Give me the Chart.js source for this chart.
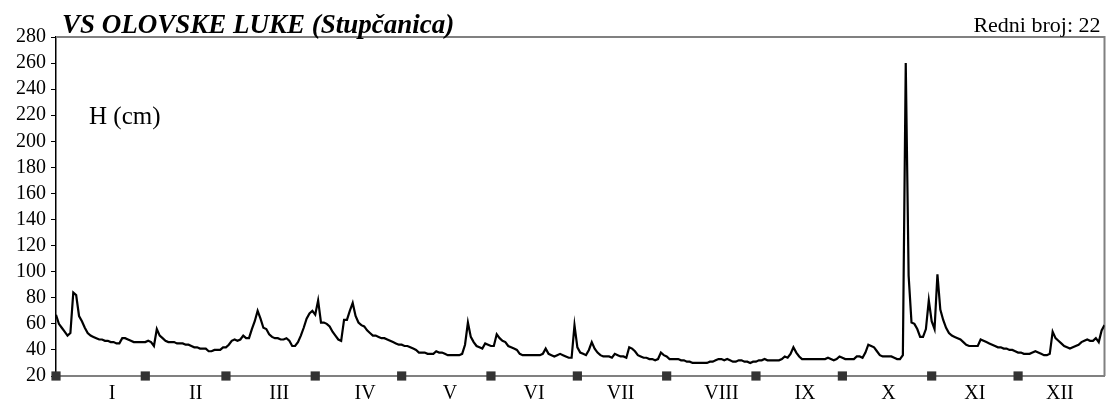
<!DOCTYPE html>
<html>
<head>
<meta charset="utf-8">
<script src="https://cdn.jsdelivr.net/npm/chart.js@4.4.1/dist/chart.umd.min.js"></script>
<style>
body { margin: 0; background: #fff; }
#wrap { width: 1111px; height: 405px; }
</style>
</head>
<body>
<div id="wrap"><canvas id="myChart"></canvas></div>
<script>
// Vodostaj H (cm) po danima, jedan niz za svaki mjesec
let jan = [67,60,57,54,51,53,84,82,66,62, 57,53,51,50,49,48,48,47,47,46, 46,45,45,49,49,48,47,46,46,46,46];
let feb = [46,47,46,43,56,51,49,47,46,46, 46,45,45,45,44,44,43,42,42,41, 41,41,39,39,40,40,40,42];
let mar = [42,44,47,48,47,48,51,49,49,56, 62,70,64,57,56,52,50,49,49,48, 48,49,47,43,43,46,51,57,64,68,70];
let apr = [67,78,61,61,60,58,54,51,48,47, 63,63,70,76,66,61,59,58,55,53, 51,51,50,49,49,48,47,46,45,44];
let maj = [44,43,43,42,41,40,38,38,38,37, 37,37,39,38,38,37,36,36,36,36, 36,37,44,61,50,46,43,42,41,45,44];
let jun = [43,43,52,49,47,46,43,42,41,40, 37,36,36,36,36,36,36,36,37,41, 37,36,35,36,37,36,35,34,34,59];
let jul = [42,38,37,36,40,46,41,38,36,35, 35,35,34,37,36,35,35,34,42,41, 39,36,35,34,34,33,33,32,33,38,36];
let aug = [35,33,33,33,33,32,32,31,31,30, 30,30,30,30,30,31,31,32,33,33, 32,33,32,31,31,32,32,31,31,30,31];
let sep = [31,32,32,33,32,32,32,32,32,33, 35,34,37,42,38,35,33,33,33,33, 33,33,33,33,33,34,33,32,33,35];
let okt = [34,33,33,33,33,35,35,34,38,44, 43,42,39,36,35,35,35,35,34,33, 33,36,260,97,61,60,56,50,50,56,78];
let nov = [62,56,98,71,63,57,53,51,50,49, 48,46,44,43,43,43,43,48,47,46, 45,44,43,42,42,41,41,40,40,39];
let dec = [38,38,37,37,37,38,39,38,37,36, 36,37,54,49,47,45,43,42,41,42, 43,44,46,47,48,47,47,49,46,55,59];

// Oznake mjeseci na x osi i dan na kojem stoji oznaka
let mjeseci = ['I','II','III','IV','V','VI','VII','VIII','IX','X','XI','XII'];
let danOznake = [19.5, 48.5, 77.5, 107.3, 136.8, 166, 196, 231, 260, 289, 319, 348.5];
// Prvi dan svakog mjeseca (kvadratici na osi)
let pocetakMjeseca = [0,31,59,90,120,151,181,212,243,273,304,334];

// Y os
let yMin = 20, yMax = 280, yKorak = 20;

let naslov = 'VS OLOVSKE LUKE (Stupčanica)';
let redniBroj = 'Redni broj: 22';
let jedinica = 'H (cm)';

// Svi dani u jednom nizu
let dani = [].concat(jan, feb, mar, apr, maj, jun, jul, aug, sep, okt, nov, dec);
let tocke = dani.map((v, i) => ({ x: i, y: v }));
let kvadrati = pocetakMjeseca.map(d => ({ x: d, y: yMin }));

const serif = '"Liberation Serif", "Times New Roman", serif';

// Okvir (gore i desno) i tekstovi
const okvir = {
	id: 'okvir',
	beforeDatasetsDraw(chart) {
		const { ctx, chartArea: a } = chart;
		ctx.save();
		ctx.strokeStyle = '#808080';
		ctx.lineWidth = 2;
		ctx.beginPath();
		ctx.moveTo(a.left, a.top);
		ctx.lineTo(a.right, a.top);
		ctx.lineTo(a.right, a.bottom);
		ctx.stroke();
		ctx.restore();
	},
	afterDraw(chart) {
		const { ctx, chartArea: a } = chart;
		ctx.save();
		ctx.fillStyle = '#000';
		ctx.textBaseline = 'alphabetic';
		ctx.font = 'italic bold 27px ' + serif;
		ctx.textAlign = 'left';
		ctx.fillText(naslov, a.left + 6, a.top - 4);
		ctx.font = '22px ' + serif;
		ctx.textAlign = 'right';
		ctx.fillText(redniBroj, a.right - 4, a.top - 5);
		ctx.font = '25px ' + serif;
		ctx.textAlign = 'left';
		ctx.fillText(jedinica, a.left + 33, a.top + 87);
		ctx.restore();
	}
};

const config = {
	type: 'line',
	data: {
		datasets: [{
			data: tocke,
			borderColor: '#000',
			borderWidth: 2.2,
			pointRadius: 0,
			tension: 0,
			fill: false
		}, {
			type: 'scatter',
			data: kvadrati,
			pointStyle: 'rect',
			pointRadius: 6.5,
			backgroundColor: '#333',
			borderWidth: 0,
			clip: false
		}]
	},
	options: {
		responsive: true,
		maintainAspectRatio: false,
		animation: false,
		layout: { padding: { top: 37, right: 6, bottom: -7, left: 11 } },
		plugins: { legend: { display: false }, tooltip: { enabled: false } },
		scales: {
			x: {
				type: 'linear',
				min: 0,
				max: dani.length - 1,
				grid: { display: false, drawTicks: false },
				border: { color: '#808080', width: 2 },
				afterBuildTicks: (scale) => { scale.ticks = danOznake.map(v => ({ value: v })); },
				ticks: {
					autoSkip: false,
					maxRotation: 0,
					padding: 6,
					color: '#000',
					font: { family: serif, size: 20 },
					callback: (v, i) => mjeseci[i]
				}
			},
			y: {
				min: yMin,
				max: yMax,
				grid: { drawOnChartArea: false, drawTicks: true, tickLength: 5, color: '#000' },
				border: { color: '#000', width: 1.5 },
				ticks: {
					stepSize: yKorak,
					autoSkip: false,
					padding: 5,
					color: '#000',
					font: { family: serif, size: 20 }
				}
			}
		}
	},
	plugins: [okvir]
};

let myChart = new Chart(document.getElementById('myChart'), config);
</script>
</body>
</html>
